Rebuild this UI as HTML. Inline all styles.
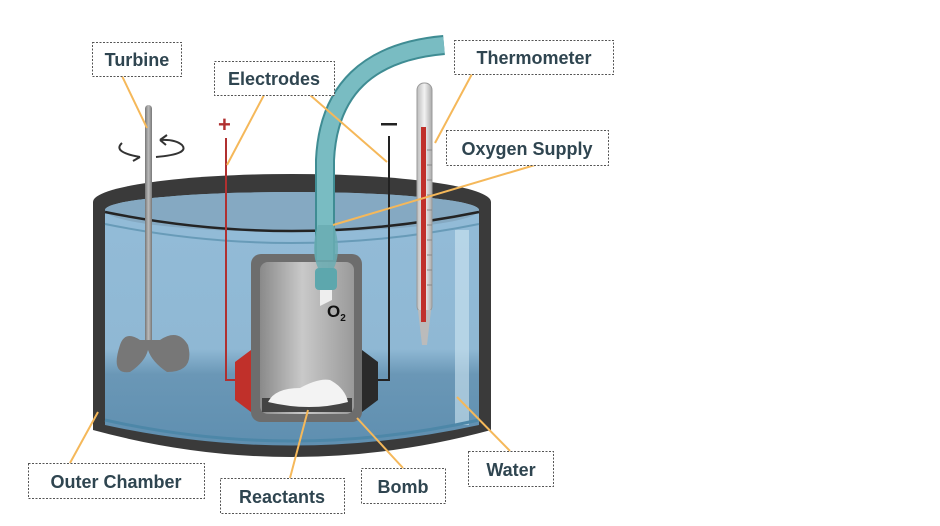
<!DOCTYPE html>
<html><head><meta charset="utf-8"><style>
html,body{margin:0;padding:0;background:#fff;width:940px;height:526px;overflow:hidden}
svg text{font-family:"Liberation Sans",sans-serif;font-weight:bold;fill:#2f4550;font-size:18px}
</style></head><body>
<svg width="940" height="526" viewBox="0 0 940 526" xmlns="http://www.w3.org/2000/svg">
<defs>
<linearGradient id="bombg" x1="0" x2="1" y1="0" y2="0">
<stop offset="0" stop-color="#8a8a8a"/><stop offset="0.45" stop-color="#c9c9c9"/><stop offset="1" stop-color="#9a9a9a"/></linearGradient>
<linearGradient id="waterg" x1="0" x2="0" y1="0" y2="1">
<stop offset="0" stop-color="#93bcd8"/><stop offset="0.62" stop-color="#8fb8d4"/><stop offset="0.72" stop-color="#6a97b6"/><stop offset="1" stop-color="#5f8fb0"/></linearGradient>
<linearGradient id="rod" x1="0" x2="1"><stop offset="0" stop-color="#777"/><stop offset="0.5" stop-color="#bbb"/><stop offset="1" stop-color="#777"/></linearGradient>
<linearGradient id="therm" x1="0" x2="1"><stop offset="0" stop-color="#bcbcbc"/><stop offset="0.5" stop-color="#f2f2f2"/><stop offset="1" stop-color="#aaa"/></linearGradient>
</defs>
<path d="M93,202 A199,28 0 0 1 491,202 L491,430 Q292,484 93,430 Z" fill="#3a3a3a"/>
<path d="M105,210 A187,18 0 0 1 479,210 L479,425 Q292,466 105,425 Z" fill="url(#waterg)"/>
<path d="M105,210 A187,18 0 0 1 479,210 A187,22 0 0 1 105,210 Z" fill="#85a9c2"/>
<rect x="455" y="230" width="14" height="195" fill="#cfe6f2" opacity="0.6"/>
<path d="M105,420 Q292,462 479,420" stroke="#4d87a8" stroke-width="3" fill="none"/>
<path d="M105,212 Q292,250 479,212" stroke="#242424" stroke-width="2.5" fill="none"/>
<path d="M105,224 Q292,262 479,224" stroke="#5e93b0" stroke-width="2" fill="none" opacity="0.8"/>
<rect x="145" y="105" width="7" height="240" rx="3.5" fill="url(#rod)"/>
<path d="M120,345 Q110,375 130,372 Q145,362 148,350 Q152,362 167,372 Q195,372 188,345 Q178,328 160,340 L140,340 Q125,330 120,345 Z" fill="#777"/>
<path d="M122,143 Q112,152 140,157 M156,157 Q190,154 182,145 Q175,139 160,140" stroke="#333" stroke-width="2" fill="none"/>
<path d="M160,140 l7,-5 M160,140 l6,5 M140,157 l-7,4" stroke="#333" stroke-width="2"/>
<text x="218" y="132" style="fill:#b03030;font-size:22px">+</text>
<path d="M226,138 V380 H240" stroke="#b03030" stroke-width="2" fill="none"/>
<rect x="381" y="123" width="16" height="2.5" fill="#222"/>
<path d="M389,136 V380 H376" stroke="#222" stroke-width="2" fill="none"/>
<path d="M235,362 L251,350 L251,412 L235,400 Z" fill="#c0302a"/>
<path d="M362,350 L378,362 L378,400 L362,412 Z" fill="#2a2a2a"/>
<rect x="251" y="254" width="111" height="168" rx="10" fill="#6d6d6d"/>
<rect x="260" y="262" width="94" height="152" rx="8" fill="url(#bombg)"/>
<rect x="262" y="398" width="90" height="14" fill="#444"/>
<path d="M268,402 Q275,388 300,388 Q318,378 330,380 Q345,388 348,402 Q310,412 268,402 Z" fill="#f3f3f3"/>
<path d="M444,45 Q330,55 325,160 L325,260" stroke="#3f8c93" stroke-width="20" fill="none"/>
<path d="M444,45 Q330,55 325,160 L325,260" stroke="#79bcc2" stroke-width="16" fill="none"/>
<path d="M318,225 Q310,250 318,268 L334,268 Q342,250 334,225 Z" fill="#6aadb3" opacity="0.85"/>
<rect x="315" y="268" width="22" height="22" rx="4" fill="#5da7ad"/>
<path d="M320,290 L332,290 L332,300 L320,306 Z" fill="#eee"/>
<text x="327" y="317" style="fill:#111;font-size:17px">O<tspan font-size="10" dy="4">2</tspan></text>
<rect x="417" y="83" width="15" height="230" rx="7" fill="url(#therm)" stroke="#999" stroke-width="1"/>
<path d="M418,310 L431,310 L427,345 L422,345 Z" fill="#bbb"/>
<rect x="421" y="127" width="5" height="195" fill="#c0302a"/>
<g stroke="#888" stroke-width="1">
<line x1="427" y1="150" x2="432" y2="150"/><line x1="427" y1="165" x2="432" y2="165"/><line x1="427" y1="180" x2="432" y2="180"/><line x1="427" y1="195" x2="432" y2="195"/><line x1="427" y1="210" x2="432" y2="210"/><line x1="427" y1="225" x2="432" y2="225"/><line x1="427" y1="240" x2="432" y2="240"/><line x1="427" y1="255" x2="432" y2="255"/><line x1="427" y1="270" x2="432" y2="270"/><line x1="427" y1="285" x2="432" y2="285"/></g>
<g stroke="#f5b85a" stroke-width="2">
<line x1="122" y1="76" x2="147" y2="128"/>
<line x1="264" y1="95" x2="227" y2="165"/>
<line x1="310" y1="95" x2="387" y2="162"/>
<line x1="472" y1="74" x2="435" y2="143"/>
<line x1="535" y1="165" x2="333" y2="225"/>
<line x1="98" y1="412" x2="70" y2="463"/>
<line x1="308" y1="410" x2="290" y2="478"/>
<line x1="357" y1="418" x2="403" y2="468"/>
<line x1="457" y1="397" x2="510" y2="451"/>
</g>
<g fill="#fff" stroke="#555" stroke-width="1" stroke-dasharray="2,1.5">
<rect x="92.5" y="42.5" width="89" height="34"/>
<rect x="214.5" y="61.5" width="120" height="34"/>
<rect x="454.5" y="40.5" width="159" height="34"/>
<rect x="446.5" y="130.5" width="162" height="35"/>
<rect x="28.5" y="463.5" width="176" height="35"/>
<rect x="220.5" y="478.5" width="124" height="35"/>
<rect x="361.5" y="468.5" width="84" height="35"/>
<rect x="468.5" y="451.5" width="85" height="35"/>
</g>
<g text-anchor="middle">
<text x="137" y="66">Turbine</text>
<text x="274" y="85">Electrodes</text>
<text x="534" y="64">Thermometer</text>
<text x="527" y="155">Oxygen Supply</text>
<text x="116" y="488">Outer Chamber</text>
<text x="282" y="503">Reactants</text>
<text x="403" y="493">Bomb</text>
<text x="511" y="476">Water</text>
</g>
</svg>
</body></html>
